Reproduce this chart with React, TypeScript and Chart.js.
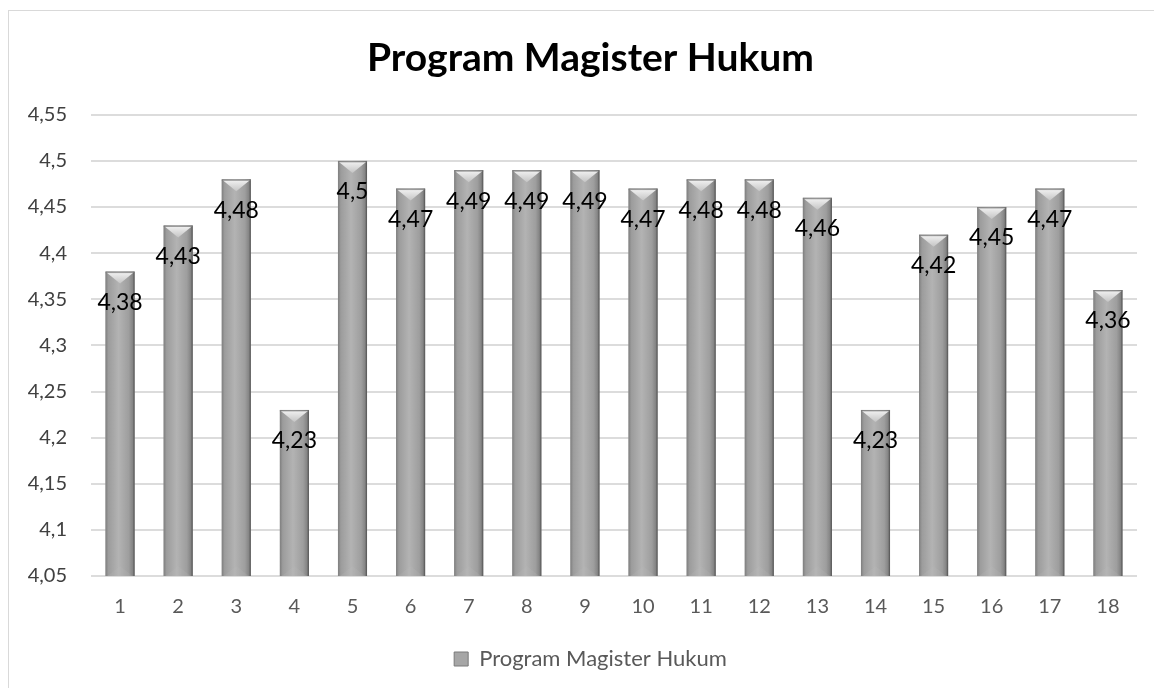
import React, { useEffect, useRef } from "react";
import { Chart, registerables } from "chart.js";

Chart.register(...registerables);

const TITLE = "Program Magister Hukum";
const SERIES_NAME = "Program Magister Hukum";
const categories = ["1", "2", "3", "4", "5", "6", "7", "8", "9", "10", "11", "12", "13", "14", "15", "16", "17", "18"];
const values = [4.38, 4.43, 4.48, 4.23, 4.5, 4.47, 4.49, 4.49, 4.49, 4.47, 4.48, 4.48, 4.46, 4.23, 4.42, 4.45, 4.47, 4.36];
const yMin = 4.05;
const yMax = 4.55;
const yStep = 0.05;

const FONT = "Lato, 'Noto Sans', sans-serif";

const fmt = (v: number) => String(Number(v.toFixed(2))).replace(".", ",");

const barStylePlugin = {
  id: "barStyle",
  afterDatasetsDraw(chart: any) {
    const ctx = chart.ctx;
    const area = chart.chartArea;
    const meta = chart.getDatasetMeta(0);
    ctx.save();
    ctx.beginPath();
    ctx.rect(area.left, area.top, area.right - area.left, area.bottom - area.top);
    ctx.clip();
    meta.data.forEach((bar: any) => {
      const w = bar.width;
      const left = bar.x - w / 2;
      const top = bar.y;
      const bottom = Math.min(bar.base, area.bottom);
      const h = bottom - top;
      const g = ctx.createLinearGradient(left, 0, left + w, 0);
      g.addColorStop(0, "#7e7e7e");
      g.addColorStop(0.1, "#9c9c9c");
      g.addColorStop(0.45, "#b3b3b3");
      g.addColorStop(0.8, "#9e9e9e");
      g.addColorStop(0.93, "#858585");
      g.addColorStop(1, "#505050");
      ctx.fillStyle = g;
      ctx.fillRect(left, top, w, h);
      const bev = 12;
      const tg = ctx.createLinearGradient(0, top, 0, top + bev);
      tg.addColorStop(0, "#f4f4f4");
      tg.addColorStop(1, "#c4c4c4");
      ctx.fillStyle = tg;
      ctx.beginPath();
      ctx.moveTo(left + 1, top + 1);
      ctx.lineTo(left + w - 1, top + 1);
      ctx.lineTo(bar.x, top + bev);
      ctx.closePath();
      ctx.fill();
      ctx.fillStyle = "rgba(120,120,120,0.6)";
      ctx.fillRect(left, top, w, 1.5);
      ctx.fillStyle = "rgba(190,190,190,0.18)";
      ctx.beginPath();
      ctx.moveTo(left + 2, bottom);
      ctx.lineTo(left + w - 2, bottom);
      ctx.lineTo(bar.x, bottom - 10);
      ctx.closePath();
      ctx.fill();
    });
    ctx.restore();

    ctx.save();
    ctx.font = `23px ${FONT}`;
    ctx.fillStyle = "#000000";
    ctx.textAlign = "center";
    ctx.textBaseline = "middle";
    meta.data.forEach((bar: any, i: number) => {
      ctx.fillText(fmt(values[i]), bar.x, bar.y + 31);
    });
    ctx.restore();
  },
};

export default function App() {
  const ref = useRef<HTMLCanvasElement | null>(null);

  useEffect(() => {
    document.body.style.overflow = "hidden";
    if (!ref.current) return;
    const chart = new Chart(ref.current, {
      type: "bar",
      data: {
        labels: categories,
        datasets: [
          {
            label: SERIES_NAME,
            data: values,
            backgroundColor: "#a6a6a6",
            borderWidth: 0,
            categoryPercentage: 0.5,
            barPercentage: 1,
          },
        ],
      },
      options: {
        animation: false,
        responsive: false,
        maintainAspectRatio: false,
        layout: { padding: { left: 0, right: 0, top: 0, bottom: 8 } },
        plugins: {
          title: {
            display: true,
            text: TITLE,
            color: "#000000",
            font: { family: FONT, size: 39, weight: "bold" },
            padding: { top: 24, bottom: 33 },
          },
          legend: {
            display: true,
            position: "bottom",
            labels: {
              color: "#595959",
              font: { family: FONT, size: 22 },
              boxWidth: 14,
              boxHeight: 14,
              padding: 9,
              generateLabels: () => [
                {
                  text: SERIES_NAME,
                  fillStyle: "#a6a6a6",
                  strokeStyle: "#7a7a7a",
                  lineWidth: 1,
                  hidden: false,
                  datasetIndex: 0,
                  fontColor: "#595959",
                },
              ],
            },
          },
          tooltip: { enabled: false },
        },
        scales: {
          x: {
            grid: { display: false },
            border: { display: false },
            ticks: { color: "#595959", font: { family: FONT, size: 20 }, padding: 11 },
            afterFit: (s: any) => {
              s.height = 63;
            },
          },
          y: {
            min: yMin,
            max: yMax,
            grid: { color: "#dcdcdc", lineWidth: 2, drawTicks: false },
            border: { display: false },
            ticks: {
              stepSize: yStep,
              color: "#404040",
              font: { family: FONT, size: 20 },
              padding: 24,
              callback: (v: any) => fmt(Number(v)),
            },
            afterFit: (s: any) => {
              s.width = 82;
            },
          },
          yRight: {
            type: "linear",
            position: "right",
            display: true,
            grid: { display: false, drawTicks: false },
            border: { display: false },
            ticks: { display: false },
            afterFit: (s: any) => {
              s.width = 35;
            },
          },
        },
      },
      plugins: [barStylePlugin],
    });
    return () => chart.destroy();
  }, []);

  return (
    <div
      style={{
        position: "relative",
        width: 1164,
        height: 678,
        marginTop: 2,
        borderLeft: "1px solid #d9d9d9",
        borderTop: "1px solid #d9d9d9",
        boxSizing: "border-box",
        background: "#ffffff",
      }}
    >
      <canvas ref={ref} width={1163} height={677} style={{ display: "block" }} />
    </div>
  );
}
